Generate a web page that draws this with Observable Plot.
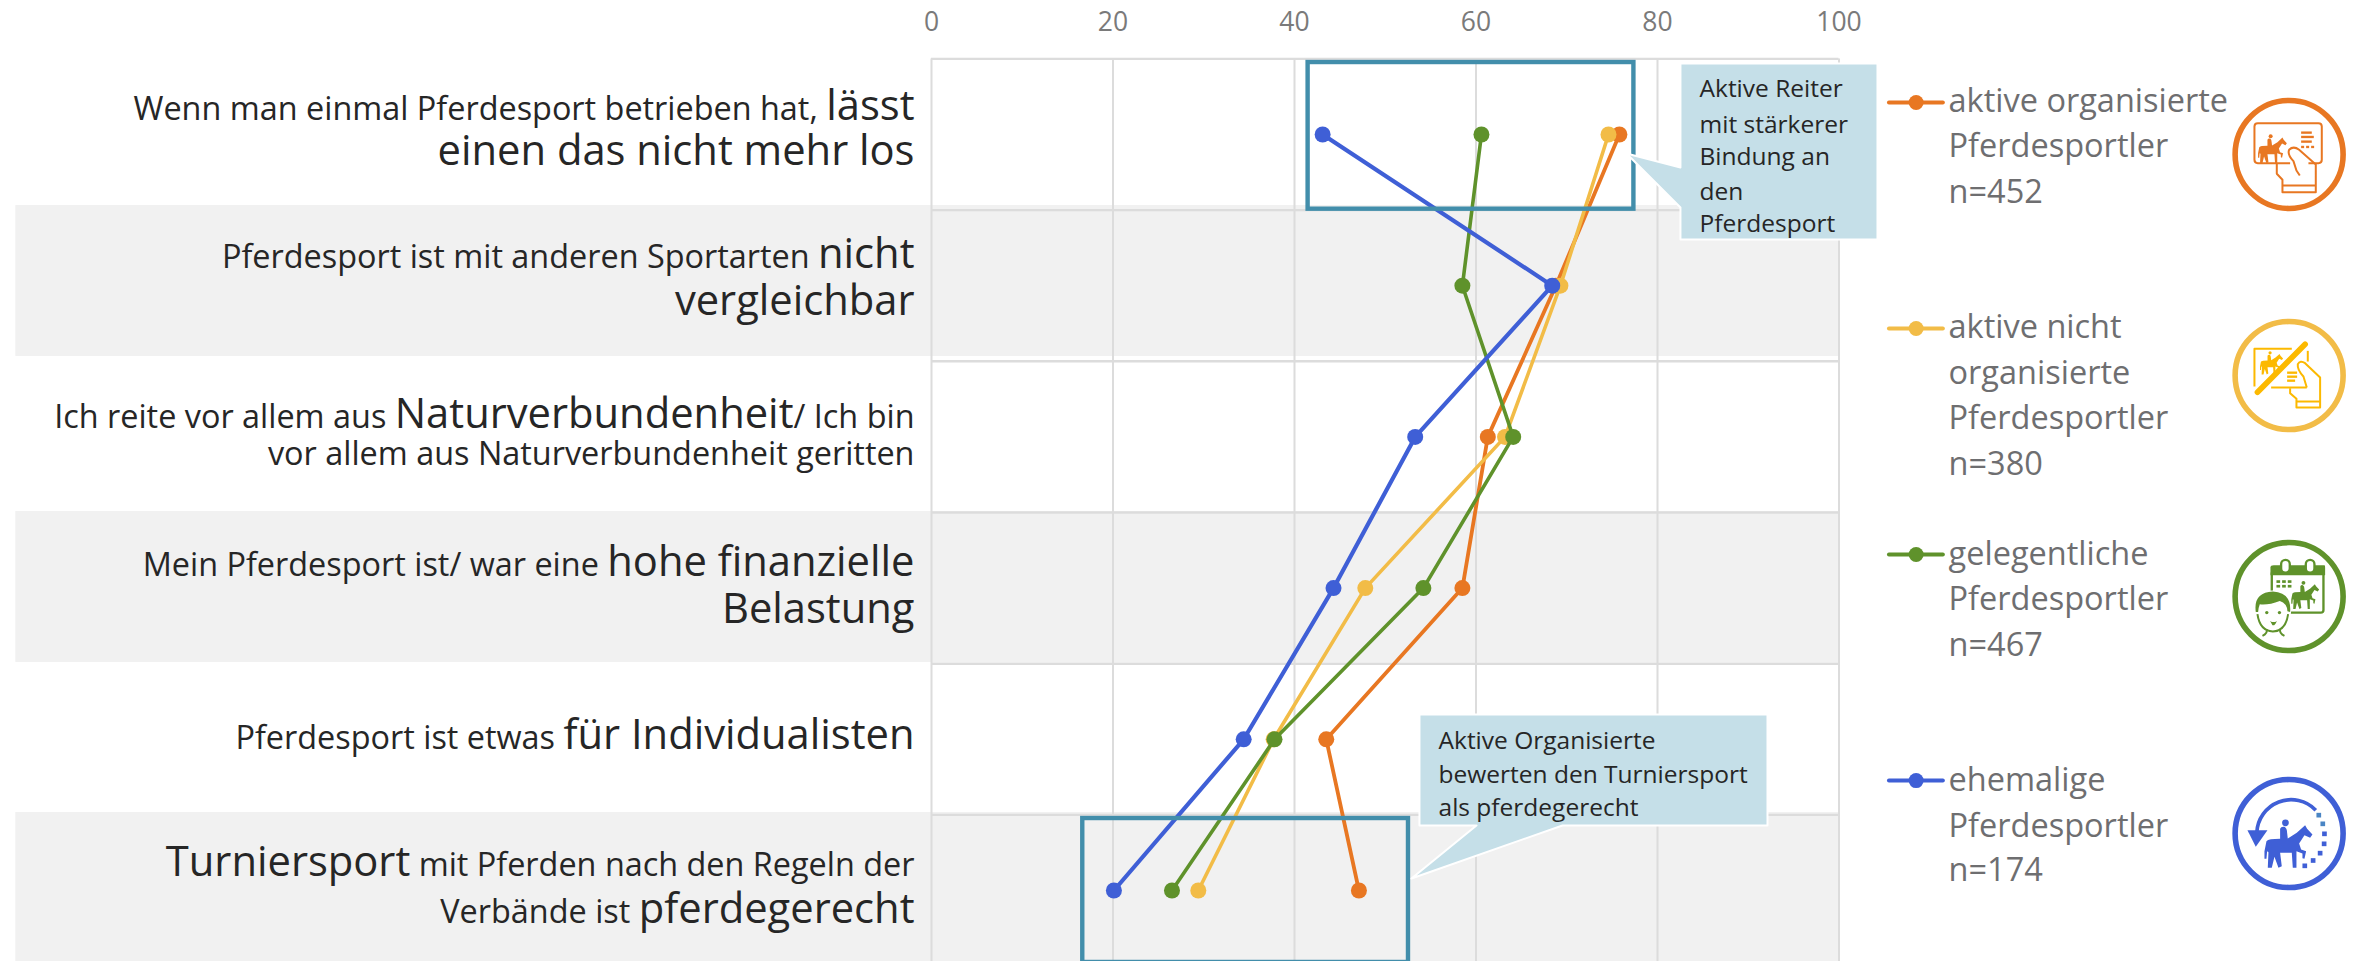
<!DOCTYPE html>
<html lang="de">
<head>
<meta charset="utf-8">
<style>html,body{margin:0;padding:0;background:#fff;overflow:hidden}svg{display:block}</style>
<script src="https://cdn.jsdelivr.net/npm/d3@7"></script>
<script src="https://cdn.jsdelivr.net/npm/@observablehq/plot@0.6"></script>
</head>
<body>
<div id="chart"></div>
<script>
// ---- values (row index 0..5 top to bottom, share in %) ----
const rows = [0, 1, 2, 3, 4, 5];
const aktiveOrganisierte = [75.8, 68.8, 61.3, 58.5, 43.5, 47.1];
const aktiveNichtOrganisierte = [74.6, 69.3, 63.2, 47.8, 37.7, 29.4];
const gelegentliche = [60.6, 58.5, 64.1, 54.2, 37.8, 26.5];
const ehemalige = [43.1, 68.4, 53.3, 44.3, 34.4, 20.1];
const xTicks = [0, 20, 40, 60, 80, 100];
const seriesColors = ["#E87722", "#F2BC47", "#5F922B", "#3F5FD6"];

// category labels: "|" toggles between normal and large text
const labelText = [
  "Wenn man einmal Pferdesport betrieben hat, |lässt", "|einen das nicht mehr los",
  "Pferdesport ist mit anderen Sportarten |nicht", "|vergleichbar",
  "Ich reite vor allem aus |Naturverbundenheit|/ Ich bin", "vor allem aus Naturverbundenheit geritten",
  "Mein Pferdesport ist/ war eine |hohe finanzielle", "|Belastung",
  "Pferdesport ist etwas |für Individualisten",
  "|Turniersport| mit Pferden nach den Regeln der", "Verbände ist |pferdegerecht"
];
const labelY = [-0.099, 0.205, 0.886, 1.197, 1.938, 2.189, 2.917, 3.228, 4.061, 4.901, 5.212];

const legendLines = [
  "aktive organisierte", "Pferdesportler", "n=452",
  "aktive nicht", "organisierte", "Pferdesportler", "n=380",
  "gelegentliche", "Pferdesportler", "n=467",
  "ehemalige", "Pferdesportler", "n=174"
];
const legendLineY = [-0.146, 0.152, 0.456, 1.349, 1.647, 1.951, 2.255, 2.844, 3.148, 3.446, 4.339, 4.649, 4.940];
const legendKeyY = [-0.212, 1.283, 2.778, 4.273];
const iconY = [0.132, 1.594, 3.056, 4.623];

const bands = [[0.47, 1.468], [2.493, 3.492], [4.484, 5.53]];
const gridY = [-0.5, 0.5, 1.5, 2.5, 3.5, 4.5, 5.5];
const boxes = [
  {x1: 41.5, x2: 77.4, y1: -0.476, y2: 0.494},
  {x1: 16.67, x2: 52.56, y1: 4.524, y2: 5.476}
];
const callouts = [
  [[82.53,-0.47],[104.24,-0.47],[104.24,0.694],[82.53,0.694],[82.53,0.483],[76.58,0.126],[82.53,0.218]],
  [[53.77,3.836],[92.12,3.836],[92.12,4.57],[69.53,4.57],[52.89,4.921],[60.05,4.57],[53.77,4.57]]
];
const calloutText = [
  {x: 84.63, y: -0.245, t: "Aktive Reiter"}, {x: 84.63, y: -0.013, t: "mit stärkerer"},
  {x: 84.63, y: 0.205, t: "Bindung an"}, {x: 84.63, y: 0.43, t: "den"}, {x: 84.63, y: 0.648, t: "Pferdesport"},
  {x: 55.87, y: 4.061, t: "Aktive Organisierte"}, {x: 55.87, y: 4.292, t: "bewerten den Turniersport"},
  {x: 55.87, y: 4.504, t: "als pferdegerecht"}
];

const FONT = "'Open Sans', sans-serif";
const seriesValues = [aktiveOrganisierte, aktiveNichtOrganisierte, gelegentliche, ehemalige];
const seriesWidth = [3.8, 3.6, 3.6, 4.2];

const horse = `<path fill="currentColor" stroke="none" d="M118 245 L124 215 Q130 208 165 208 L165 178 Q168 170 178 172 Q186 176 186 190 L188 207 L215 190 L240 167 L246 178 L262 195 L255 205 L238 197 L222 222 L228 240 L243 245 L238 268 L232 266 L232 252 L214 245 L214 295 L203 295 L200 250 L165 250 L170 290 L160 295 L148 262 L140 295 L128 295 L130 248 L126 245 L124 268 L118 268 Z"/><circle fill="currentColor" stroke="none" cx="181" cy="160" r="10"/>`;
const glyphs = [
  // card + hand
  `<g fill="none" stroke="currentColor" stroke-width="6" stroke-linejoin="round">
    <path d="M195 218 H98 Q88 218 88 208 V108 Q88 98 98 98 H280 Q290 98 290 108 V208 Q290 218 280 218 H250"/>
    <path d="M155 218 V250 L172 268 V305 H272 V222 L222 178 Q205 165 192 178 Q186 192 205 212 L214 240 L224 255"/>
    <path d="M172 285 H272"/></g>
    <g transform="translate(28,41) scale(.6)">${horse}</g>
    <g fill="currentColor"><rect x="228" y="123" width="32" height="7"/><rect x="228" y="136" width="38" height="7"/><rect x="228" y="150" width="32" height="7"/><rect x="228" y="166" width="9" height="7"/><rect x="243" y="166" width="9" height="7"/><rect x="258" y="166" width="9" height="7"/></g>`,
  // card + hand, crossed out
  `<g fill="none" stroke="#FCB900" stroke-width="6" stroke-linejoin="round" color="#FCB900">
    <path d="M200 112 H88 V225"/><path d="M248 118 V150"/><path d="M138 228 H245"/>
    <path d="M195 230 L195 245 L214 262 V288 H285 V198 L240 155 Q225 145 218 158 Q216 175 235 195 L245 228"/>
    <path d="M214 270 H285"/></g>
    <g transform="translate(48,47) scale(.48)" color="#FCB900">${horse}</g>
    <g fill="#FCB900"><rect x="186" y="180" width="30" height="7"/><rect x="186" y="192" width="30" height="7"/><rect x="186" y="204" width="24" height="7"/></g>
    <path d="M97 242 L240 98" stroke="#FCB900" stroke-width="17" stroke-linecap="round"/>`,
  // calendar + face
  `<g fill="none" stroke="currentColor" stroke-width="7" stroke-linejoin="round">
    <path d="M140 120 V190 M295 120 V232 Q295 240 287 240 H190"/></g>
    <path fill="currentColor" d="M146 98 H298 Q300 98 300 105 V128 H136 V105 Q136 98 146 98 Z"/>
    <g fill="#fff" stroke="currentColor" stroke-width="7"><rect x="168" y="82" width="26" height="38" rx="13"/><rect x="242" y="82" width="26" height="38" rx="13"/></g>
    <g fill="currentColor">
      <rect x="154" y="143" width="11" height="8"/><rect x="171" y="143" width="11" height="8"/><rect x="188" y="143" width="11" height="8"/>
      <rect x="154" y="157" width="11" height="8"/><rect x="171" y="157" width="11" height="8"/><rect x="188" y="157" width="11" height="8"/></g>
    <g transform="translate(130,58) scale(.58)">${horse}</g>
    <path fill="#fff" stroke="#fff" stroke-width="8" d="M92 235 Q92 178 143 178 Q194 178 194 235 Q192 300 143 300 Q94 300 92 235 Z"/>
    <path fill="none" stroke="currentColor" stroke-width="6" d="M97 245 Q104 295 143 297 Q182 295 189 245"/>
    <path fill="currentColor" d="M92 238 Q84 180 143 177 Q200 180 195 238 L187 236 Q186 212 164 205 Q130 218 104 215 Q100 225 99 238 Z"/>
    <circle cx="125" cy="240" r="5" fill="currentColor"/><circle cx="163" cy="240" r="5" fill="currentColor"/>
    <path d="M135 265 Q146 272 155 265 Q150 280 142 278 Z" fill="currentColor"/>
    <path fill="none" stroke="currentColor" stroke-width="6" d="M125 290 Q128 302 112 310 M165 290 Q162 302 178 310"/>`,
  // return arrow
  `<path fill="none" stroke="currentColor" stroke-width="11" d="M272 122 A103 103 0 0 0 95 190"/>
    <path fill="currentColor" d="M67 182 H127 L92 232 Z"/>
    <g transform="translate(0,0)">${horse}</g>
    <g fill="#4A85C4"><rect x="274" y="130" width="14" height="14"/><rect x="286" y="156" width="14" height="14"/></g>
    <g fill="currentColor"><rect x="291" y="186" width="14" height="14"/><rect x="290" y="216" width="14" height="14"/><rect x="278" y="244" width="14" height="14"/><rect x="257" y="266" width="14" height="14"/><rect x="232" y="282" width="14" height="14"/></g>`
];

const marks = [
  Plot.rect(bands, {x1: () => -100.9, x2: () => 100, y1: d => d[0], y2: d => d[1], fill: "#F1F1F1"}),
  Plot.ruleX(xTicks, {stroke: "#DCDCDC", strokeWidth: 2, y1: -0.5, y2: 5.5}),
  Plot.ruleY(gridY, {stroke: "#DCDCDC", strokeWidth: 2.4, x1: 0, x2: 100}),
  Plot.axisX({anchor: "top", ticks: xTicks, tickSize: 0, tickPadding: 28, label: null,
    fontSize: 26.5, fill: "#7A7A7A", tickFormat: d => String(d)})
];
seriesValues.forEach((vals, s) => {
  marks.push(Plot.line(rows, {x: i => vals[i], y: i => i, stroke: seriesColors[s], strokeWidth: seriesWidth[s]}));
  marks.push(Plot.dot(rows, {x: i => vals[i], y: i => i, fill: seriesColors[s], stroke: "none", r: 8}));
});
marks.push(
  Plot.rect(boxes, {x1: "x1", x2: "x2", y1: "y1", y2: "y2", fill: "none", stroke: "#428EAB", strokeWidth: 4.4})
);
callouts.forEach(poly => marks.push(
  Plot.line(poly, {x: "0", y: "1", curve: "linear-closed", fill: "#C5DFE8", stroke: "#fff", strokeWidth: 2})
));
marks.push(
  Plot.text(calloutText, {x: "x", y: "y", text: "t", textAnchor: "start", lineAnchor: "bottom", fontSize: 24.5, fill: "#262626"}),
  Plot.text(labelText, {x: () => 0, y: (d, i) => labelY[i], text: d => d, dx: -17, textAnchor: "end",
    lineAnchor: "bottom", fontSize: 32.4, fill: "#262626", className: "rich-label"}),
  Plot.text(legendLines, {x: () => 112.07, y: (d, i) => legendLineY[i], text: d => d, textAnchor: "start",
    lineAnchor: "bottom", fontSize: 32.5, fill: "#6E6E70"})
);
legendKeyY.forEach((y, s) => {
  marks.push(Plot.ruleY([y], {x1: 105.56, x2: 111.5, stroke: seriesColors[s], strokeWidth: 4, strokeLinecap: "round"}));
  marks.push(Plot.dot([y], {x: () => 108.5, y: d => d, fill: seriesColors[s], stroke: "none", r: 7.5}));
  marks.push(Plot.dot([iconY[s]], {x: () => 149.6, y: d => d, r: 54, fill: "none", stroke: seriesColors[s], strokeWidth: 5.6}));
});
// icon glyphs inside the rings
marks.push((index, scales) => {
  const g = d3.create("svg:g");
  iconY.forEach((y, s) => {
    g.append("g")
      .attr("transform", `translate(${scales.x(149.6) - 63.5},${scales.y(y) - 63.5}) scale(${1 / 3})`)
      .attr("color", seriesColors[s])
      .html(glyphs[s]);
  });
  return g.node();
});

const svg = Plot.plot({
  width: 2354,
  height: 961,
  marginLeft: 931,
  marginRight: 515.5,
  marginTop: 58.4,
  marginBottom: 0,
  style: {fontFamily: FONT, background: "#fff", overflow: "hidden"},
  x: {domain: [0, 100], range: [931, 1838.5], axis: null},
  y: {domain: [-0.5, 5.5], range: [58.4, 965.6], axis: null},
  marks
});

// mixed font sizes inside one label line
d3.select(svg).selectAll(".rich-label text").each(function () {
  const parts = this.textContent.split("|");
  const t = d3.select(this).text(null).style("white-space", "pre");
  parts.forEach((p, i) => {
    if (p) t.append("tspan").attr("font-size", i % 2 ? 41.7 : 32.4).text(p);
  });
});
document.getElementById("chart").appendChild(svg);
</script>
</body>
</html>
